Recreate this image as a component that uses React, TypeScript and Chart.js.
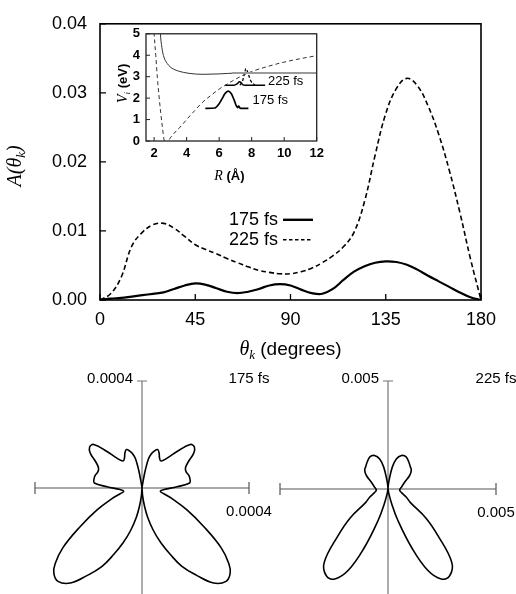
import { useEffect, useRef } from "react";
import { Chart, registerables } from "chart.js";

Chart.register(...registerables);

// ---- Angular distribution A(theta_k) ----
const thetaDeg = [
  0, 5, 10, 15, 20, 25, 30, 35, 40, 45, 50, 55, 60, 65, 70, 75, 80, 85, 90,
  95, 100, 105, 110, 115, 120, 125, 130, 135, 140, 145, 150, 155, 160, 165,
  170, 175, 180,
];
const amp175 = [
  0, 0.0002, 0.0003, 0.0005, 0.0007, 0.0009, 0.0011, 0.0016, 0.0021, 0.0024,
  0.0022, 0.0017, 0.0012, 0.001, 0.0012, 0.0016, 0.0021, 0.0023, 0.0021,
  0.0015, 0.001, 0.0009, 0.0016, 0.0029, 0.0041, 0.0049, 0.0054, 0.0056,
  0.0055, 0.0051, 0.0044, 0.0035, 0.0027, 0.0019, 0.0011, 0.0004, 0,
];
const amp225 = [
  0, 0.0009, 0.0033, 0.0078, 0.0098, 0.0109, 0.0111, 0.0104, 0.0092, 0.008,
  0.0073, 0.0067, 0.006, 0.0054, 0.0048, 0.0043, 0.004, 0.0038, 0.0038,
  0.0041, 0.0046, 0.0054, 0.0064, 0.0077, 0.0098, 0.0143, 0.021, 0.027,
  0.0306, 0.0321, 0.031, 0.0281, 0.024, 0.0188, 0.0127, 0.006, 0,
];
const thetaTicks = [0, 45, 90, 135, 180];
const ampTicks = [0, 0.01, 0.02, 0.03, 0.04];
const seriesNames = ["175 fs", "225 fs"];

// ---- Inset: potential curves V_i(R) and wave packets ----
const groundR = [1.97, 2.0, 2.1, 2.2, 2.3, 2.4, 2.5, 2.6, 2.7, 2.8, 2.9, 3.0, 3.3, 3.6, 4.0, 4.5, 5.0, 5.5, 6.0, 6.5, 7.0, 7.5, 8.0, 9.0, 10.0, 11.0, 12.0];
const groundV = [5.4, 5.0, 4.0, 2.95, 2.1, 1.35, 0.7, 0.1, -0.15, -0.1, 0.03, 0.15, 0.42, 0.65, 1.0, 1.42, 1.82, 2.13, 2.42, 2.66, 2.88, 3.08, 3.24, 3.48, 3.68, 3.84, 3.98];
const excitedR = [2.36, 2.4, 2.5, 2.6, 2.8, 3.0, 3.2, 3.5, 3.8, 4.2, 4.6, 5.0, 5.5, 6.0, 6.5, 7.0];
const excitedV = [5.3, 4.85, 4.25, 3.92, 3.62, 3.45, 3.35, 3.26, 3.2, 3.15, 3.12, 3.11, 3.12, 3.13, 3.15, 3.17];
const plateauR = [6.8, 12.0];
const plateauV = [3.17, 3.17];
const packet175R = [5.15, 5.74, 6.0, 6.2, 6.35, 6.56, 6.75, 6.9, 7.05, 7.13, 7.2, 7.28, 7.4, 7.8];
const packet175V = [1.52, 1.54, 1.74, 2.0, 2.2, 2.33, 2.2, 1.95, 1.65, 1.56, 1.63, 1.54, 1.52, 1.52];
const packet225R = [6.37, 6.9, 7.1, 7.25, 7.35, 7.45, 7.6, 8.83];
const packet225V = [2.6, 2.6, 2.66, 2.76, 2.72, 2.63, 2.6, 2.6];
const peak225R = [7.28, 7.45, 7.55, 7.65, 7.8, 7.95, 8.2];
const peak225V = [2.6, 2.82, 3.12, 3.38, 3.1, 2.8, 2.6];
const insetRTicks = [2, 4, 6, 8, 10, 12];
const insetVTicks = [0, 1, 2, 3, 4, 5];

// ---- Polar plots: radius vs. theta_k (right half, mirrored) ----
const polarAngle175 = [0, 6, 9, 10.5, 12.5, 15, 18, 22, 26, 30, 35, 40, 44, 48, 52, 56, 60, 65, 70, 75, 80, 84, 88, 94, 100, 105, 109, 116, 122, 127, 131, 134, 138, 143, 148, 153, 157, 161, 165, 169, 172, 175.5, 180];
const polarRadius175 = [0, 3.7e-6, 2.24e-5, 6.73e-5, 1.121e-4, 1.308e-4, 1.439e-4, 1.551e-4, 1.458e-4, 1.308e-4, 1.234e-4, 1.458e-4, 1.907e-4, 2.43e-4, 2.486e-4, 2.333e-4, 2.019e-4, 1.794e-4, 1.757e-4, 1.813e-4, 1.824e-4, 1.794e-4, 1.308e-4, 8.22e-5, 6.95e-5, 8.6e-5, 1.159e-4, 1.869e-4, 2.729e-4, 3.701e-4, 4.299e-4, 4.583e-4, 4.695e-4, 4.448e-4, 3.85e-4, 3.29e-4, 2.691e-4, 2.168e-4, 1.645e-4, 1.121e-4, 7.1e-5, 2.99e-5, 0];
const polarAngle225 = [0, 4, 7, 11, 15.5, 22, 29, 38, 45, 51, 58, 68, 83, 95, 105, 114, 121, 127.5, 133, 139, 144.6, 149.4, 154, 158, 162.5, 166, 170, 180];
const polarRadius225 = [0, 1.4e-4, 3.9e-4, 1.02e-3, 1.44e-3, 1.67e-3, 1.71e-3, 1.57e-3, 1.46e-3, 1.39e-3, 1.18e-3, 8.3e-4, 6.2e-4, 5.4e-4, 6.5e-4, 9.3e-4, 1.2e-3, 2.22e-3, 3.15e-3, 4.5e-3, 4.93e-3, 4.84e-3, 4.17e-3, 2.92e-3, 1.53e-3, 6.9e-4, 1.9e-4, 0];
const polarLimit175 = 0.0004;
const polarLimit225 = 0.005;

const SANS = "'Liberation Sans', Arial, Helvetica, sans-serif";
const SERIF = "'Liberation Serif', 'Times New Roman', serif";

type Pt = { x: number; y: number };
const pairs = (xs: number[], ys: number[]): Pt[] => xs.map((x, i) => ({ x, y: ys[i] }));

// closed butterfly outline: right half from the data, left half as its mirror image
function polarLoop(angles: number[], radii: number[]): Pt[] {
  const right = angles.map((a, i) => {
    const t = (a * Math.PI) / 180;
    return { x: radii[i] * Math.sin(t), y: radii[i] * Math.cos(t) };
  });
  const left = right.slice().reverse().map((p) => ({ x: -p.x, y: p.y }));
  return right.concat(left.slice(1));
}

type Run = { text: string; font: string; dy?: number };
function drawRuns(ctx: CanvasRenderingContext2D, runs: Run[], cx: number, baseline: number) {
  const widths = runs.map((r) => {
    ctx.font = r.font;
    return ctx.measureText(r.text).width;
  });
  let x = cx - widths.reduce((s, w) => s + w, 0) / 2;
  ctx.textAlign = "left";
  ctx.textBaseline = "alphabetic";
  runs.forEach((r, i) => {
    ctx.font = r.font;
    ctx.fillText(r.text, x, baseline + (r.dy || 0));
    x += widths[i];
  });
}

const fixedTicks = (values: number[]) => (scale: any) => {
  scale.ticks = values.map((value) => ({ value }));
};

// frame, inward ticks, legend and axis titles of the main panel
const mainDecor = {
  id: "mainDecor",
  afterDraw(chart: any) {
    const { ctx, chartArea: a, scales } = chart;
    const x = scales.x;
    const y = scales.y;
    ctx.save();
    ctx.strokeStyle = "#000";
    ctx.lineWidth = 1.6;
    ctx.strokeRect(a.left, a.top, a.right - a.left, a.bottom - a.top);
    ctx.lineWidth = 1.3;
    ctx.beginPath();
    ampTicks.forEach((v) => {
      const py = y.getPixelForValue(v);
      ctx.moveTo(a.left, py);
      ctx.lineTo(a.left + 6, py);
    });
    thetaTicks.forEach((v) => {
      const px = x.getPixelForValue(v);
      ctx.moveTo(px, a.bottom);
      ctx.lineTo(px, a.bottom - 6);
    });
    ctx.stroke();

    // legend
    ctx.fillStyle = "#000";
    ctx.font = `18px ${SANS}`;
    ctx.textAlign = "right";
    ctx.textBaseline = "middle";
    const lx = a.left + 178;
    const ly = [a.top + 196, a.top + 216];
    ctx.fillText(seriesNames[0], lx, ly[0]);
    ctx.fillText(seriesNames[1], lx, ly[1]);
    ctx.beginPath();
    ctx.lineWidth = 2.4;
    ctx.moveTo(lx + 5, ly[0]);
    ctx.lineTo(lx + 35, ly[0]);
    ctx.stroke();
    ctx.beginPath();
    ctx.lineWidth = 1.5;
    ctx.setLineDash([3.5, 2.5]);
    ctx.moveTo(lx + 5, ly[1]);
    ctx.lineTo(lx + 35, ly[1]);
    ctx.stroke();
    ctx.setLineDash([]);

    // x title
    drawRuns(
      ctx,
      [
        { text: "θ", font: `italic 20px ${SERIF}` },
        { text: "k", font: `italic 13px ${SERIF}`, dy: 4 },
        { text: " (degrees)", font: `19px ${SANS}` },
      ],
      (a.left + a.right) / 2,
      a.bottom + 55
    );
    // y title
    ctx.save();
    ctx.translate(15, (a.top + a.bottom) / 2 + 4);
    ctx.rotate(-Math.PI / 2);
    drawRuns(
      ctx,
      [
        { text: "A(θ", font: `italic 20px ${SERIF}` },
        { text: "k", font: `italic 13px ${SERIF}`, dy: 4 },
        { text: ")", font: `italic 20px ${SERIF}` },
      ],
      0,
      6
    );
    ctx.restore();
    ctx.restore();
  },
};

const insetDecor = {
  id: "insetDecor",
  afterDraw(chart: any) {
    const { ctx, chartArea: a, scales } = chart;
    const x = scales.x;
    const y = scales.y;
    ctx.save();
    ctx.strokeStyle = "#222";
    ctx.lineWidth = 1.3;
    ctx.strokeRect(a.left, a.top, a.right - a.left, a.bottom - a.top);
    ctx.lineWidth = 1;
    ctx.beginPath();
    insetVTicks.forEach((v) => {
      const py = y.getPixelForValue(v);
      ctx.moveTo(a.left, py);
      ctx.lineTo(a.left + 4, py);
    });
    insetRTicks.forEach((v) => {
      const px = x.getPixelForValue(v);
      ctx.moveTo(px, a.bottom);
      ctx.lineTo(px, a.bottom - 4);
    });
    ctx.stroke();

    ctx.fillStyle = "#000";
    ctx.font = `13px ${SANS}`;
    ctx.textAlign = "left";
    ctx.textBaseline = "middle";
    ctx.fillText(seriesNames[1], x.getPixelForValue(9.0), y.getPixelForValue(2.8));
    ctx.fillText(seriesNames[0], x.getPixelForValue(8.05), y.getPixelForValue(1.9));

    drawRuns(
      ctx,
      [
        { text: "R", font: `italic 14px ${SERIF}` },
        { text: " (Å)", font: `bold 13px ${SANS}` },
      ],
      (a.left + a.right) / 2 - 2,
      a.bottom + 39
    );
    ctx.save();
    ctx.translate(a.left - 24, y.getPixelForValue(2.5) - 4);
    ctx.rotate(-Math.PI / 2);
    drawRuns(
      ctx,
      [
        { text: "V", font: `italic 14px ${SERIF}` },
        { text: "i", font: `italic 9px ${SERIF}`, dy: 3 },
        { text: " (eV)", font: `bold 13px ${SANS}` },
      ],
      0,
      5
    );
    ctx.restore();
    ctx.restore();
  },
};

function polarDecor(limit: number, label: string, series: string) {
  return {
    id: "polarDecor",
    beforeDatasetsDraw(chart: any) {
      const { ctx, chartArea: a, scales } = chart;
      const x = scales.x;
      const y = scales.y;
      const cx = x.getPixelForValue(0);
      const cy = y.getPixelForValue(0);
      const left = x.getPixelForValue(-limit);
      const right = x.getPixelForValue(limit);
      const top = y.getPixelForValue(limit);
      ctx.save();
      ctx.lineWidth = 1.2;
      ctx.strokeStyle = "#555";
      ctx.beginPath();
      ctx.moveTo(left, cy);
      ctx.lineTo(right, cy);
      ctx.moveTo(left, cy - 6);
      ctx.lineTo(left, cy + 6);
      ctx.moveTo(right, cy - 6);
      ctx.lineTo(right, cy + 6);
      ctx.stroke();
      ctx.strokeStyle = "#777";
      ctx.beginPath();
      ctx.moveTo(cx, top);
      ctx.lineTo(cx, a.bottom);
      ctx.moveTo(cx - 5, top);
      ctx.lineTo(cx + 5, top);
      ctx.stroke();

      ctx.fillStyle = "#000";
      ctx.font = `15px ${SANS}`;
      ctx.textBaseline = "middle";
      ctx.textAlign = "right";
      ctx.fillText(label, cx - 9, top - 2);
      ctx.textAlign = "center";
      ctx.fillText(series, right, top - 2);
      ctx.fillText(label, right, cy + 24);
      ctx.restore();
    },
  };
}

const smoothLine = { pointRadius: 0, fill: false, tension: 0.4 };
const insetLine = { pointRadius: 0, fill: false, cubicInterpolationMode: "monotone" as const };

function mainConfig(): any {
  return {
    type: "line",
    data: {
      datasets: [
        { ...smoothLine, label: seriesNames[0], data: pairs(thetaDeg, amp175), borderColor: "#000", borderWidth: 2.2 },
        { ...smoothLine, label: seriesNames[1], data: pairs(thetaDeg, amp225), borderColor: "#000", borderWidth: 1.6, borderDash: [5, 3] },
      ],
    },
    options: {
      responsive: false,
      animation: false,
      devicePixelRatio: 1,
      layout: { padding: { top: 20, right: 35, left: 0, bottom: 0 } },
      plugins: { legend: { display: false }, tooltip: { enabled: false } },
      scales: {
        x: {
          type: "linear",
          min: 0,
          max: 180,
          afterFit: (s: any) => {
            s.height = 70;
          },
          afterBuildTicks: fixedTicks(thetaTicks),
          grid: { display: false, drawTicks: false, tickLength: 0 },
          border: { display: false },
          ticks: { font: { family: SANS, size: 18 }, color: "#000", padding: 9, maxRotation: 0 },
        },
        y: {
          type: "linear",
          min: 0,
          max: 0.04,
          afterFit: (s: any) => {
            s.width = 100;
          },
          afterBuildTicks: fixedTicks(ampTicks),
          grid: { display: false, drawTicks: false, tickLength: 0 },
          border: { display: false },
          ticks: {
            font: { family: SANS, size: 18 },
            color: "#000",
            padding: 13,
            callback: (v: number) => Number(v).toFixed(2),
          },
        },
      },
    },
    plugins: [mainDecor],
  };
}

function insetConfig(): any {
  return {
    type: "line",
    data: {
      datasets: [
        { ...insetLine, data: pairs(plateauR, plateauV), borderColor: "#9a9a9a", borderWidth: 2 },
        { ...insetLine, data: pairs(groundR, groundV), borderColor: "#333", borderWidth: 1, borderDash: [4, 3] },
        { ...insetLine, data: pairs(excitedR, excitedV), borderColor: "#333", borderWidth: 1 },
        { ...insetLine, data: pairs(packet175R, packet175V), borderColor: "#000", borderWidth: 1.7 },
        { ...insetLine, data: pairs(packet225R, packet225V), borderColor: "#000", borderWidth: 1.5 },
        { ...insetLine, data: pairs(peak225R, peak225V), borderColor: "#000", borderWidth: 1.3, borderDash: [3, 2] },
      ],
    },
    options: {
      responsive: false,
      animation: false,
      devicePixelRatio: 1,
      layout: { padding: { top: 10, right: 13.3, left: 0, bottom: 0 } },
      plugins: { legend: { display: false }, tooltip: { enabled: false } },
      scales: {
        x: {
          type: "linear",
          min: 1.5,
          max: 12,
          afterFit: (s: any) => {
            s.height = 49;
          },
          afterBuildTicks: fixedTicks(insetRTicks),
          grid: { display: false, drawTicks: false, tickLength: 0 },
          border: { display: false },
          ticks: { font: { family: SANS, size: 13, weight: "bold" }, color: "#000", padding: 5, maxRotation: 0 },
        },
        y: {
          type: "linear",
          min: 0,
          max: 5,
          afterFit: (s: any) => {
            s.width = 46;
          },
          afterBuildTicks: fixedTicks(insetVTicks),
          grid: { display: false, drawTicks: false, tickLength: 0 },
          border: { display: false },
          ticks: { font: { family: SANS, size: 13, weight: "bold" }, color: "#000", padding: 6 },
        },
      },
    },
    plugins: [insetDecor],
  };
}

function polarConfig(angles: number[], radii: number[], limit: number, series: string, padding: any): any {
  return {
    type: "scatter",
    data: {
      datasets: [
        {
          data: polarLoop(angles, radii),
          showLine: true,
          pointRadius: 0,
          borderColor: "#000",
          borderWidth: 1.6,
          tension: 0.4,
        },
      ],
    },
    options: {
      responsive: false,
      animation: false,
      devicePixelRatio: 1,
      layout: { padding },
      plugins: { legend: { display: false }, tooltip: { enabled: false } },
      scales: {
        x: { type: "linear", min: -limit, max: limit, display: false },
        y: { type: "linear", min: -limit, max: limit, display: false },
      },
    },
    plugins: [polarDecor(limit, String(limit), series)],
  };
}

function ChartCanvas(props: { make: () => any; left: number; top: number; width: number; height: number }) {
  const ref = useRef<HTMLCanvasElement>(null);
  useEffect(() => {
    const chart = new Chart(ref.current as HTMLCanvasElement, props.make());
    return () => chart.destroy();
  }, []);
  return (
    <canvas
      ref={ref}
      width={props.width}
      height={props.height}
      style={{ position: "absolute", left: props.left, top: props.top, width: props.width, height: props.height }}
    />
  );
}

export default function App() {
  return (
    <div style={{ position: "fixed", left: 0, top: 0, width: 516, height: 594, background: "#fff", overflow: "hidden" }}>
      <ChartCanvas make={mainConfig} left={0} top={0} width={516} height={370} />
      <ChartCanvas make={insetConfig} left={100} top={20} width={230} height={170} />
      <ChartCanvas
        make={() => polarConfig(polarAngle175, polarRadius175, polarLimit175, seriesNames[0], { left: 35, right: 31, top: 21, bottom: 0 })}
        left={0}
        top={360}
        width={280}
        height={235}
      />
      <ChartCanvas
        make={() => polarConfig(polarAngle225, polarRadius225, polarLimit225, seriesNames[1], { left: 10, right: 20, top: 21, bottom: 0 })}
        left={270}
        top={360}
        width={246}
        height={237}
      />
    </div>
  );
}
